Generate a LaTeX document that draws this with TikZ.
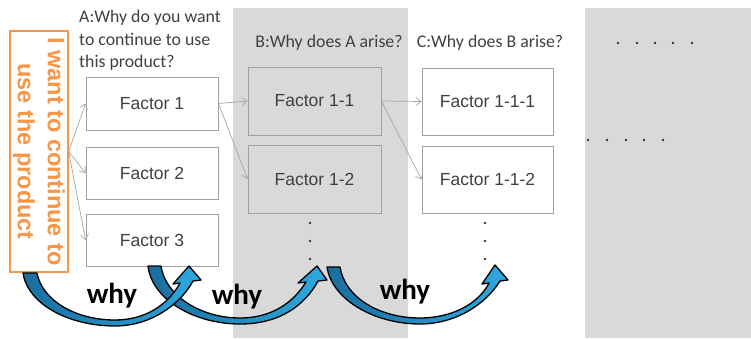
\documentclass[tikz,border=0pt]{standalone}
\usepackage{fontspec}
\setmainfont{Carlito}
\newfontfamily\arialfont{Liberation Sans}
\usetikzlibrary{arrows.meta}
\definecolor{panelgray}{HTML}{D9D9D9}
\definecolor{boxline}{HTML}{A0A0A0}
\definecolor{linkgray}{HTML}{A6A6A6}
\definecolor{textgray}{HTML}{404040}
\definecolor{orangeline}{HTML}{F79646}
\definecolor{blueDark}{HTML}{1A6E9E}
\definecolor{blueLight}{HTML}{2EA9E0}
\begin{document}
\begin{tikzpicture}[x=1pt,y=-1pt,
  factor/.style={draw=boxline, line width=0.9pt, fill=white, text=textgray,
    font=\arialfont\fontsize{17.5}{20}\selectfont, inner sep=0pt},
  factorgray/.style={factor, fill=none},
  question/.style={text=textgray, font=\fontsize{17.8}{22.5}\selectfont, inner sep=0pt},
  link/.style={draw=linkgray, line width=0.7pt, -{Straight Barb[length=5pt,width=8pt]}},
  dot/.style={fill=black!80, draw=none},
  bluearrow/.style={draw=black, line width=1.3pt, line join=round,
    left color=blueDark, right color=blueLight},
  whytext/.style={font=\bfseries\fontsize{29}{32}\selectfont, text=black, inner sep=0pt}]
\useasboundingbox (0,0) rectangle (751,338);

% background panels
\fill[panelgray] (233,8) rectangle (408,338);
\fill[panelgray] (585,8) rectangle (751,338);

% starting statement
\node[draw=orangeline, line width=1.4pt, fill=white, rotate=-90,
      minimum width=241pt, minimum height=58pt, inner sep=0pt, align=center,
      text=orangeline, font=\arialfont\bfseries\fontsize{23.5}{30}\selectfont]
      (ob) at (39,151.5) {I want to continue to\\use the product};

% questions
\node[question, anchor=north west, align=left] (qa) at (79,10)
  {A:Why do you want\\to continue to use\\this product?};
\node[question] (qb) at (329,43) {B:Why does A arise?};
\node[question] (qc) at (490,43) {C:Why does B arise?};

% factor boxes
\node[factor, minimum width=132pt, minimum height=53pt] (f1) at (152,103.5) {Factor 1};
\node[factor, minimum width=132pt, minimum height=52pt] (f2) at (152,173) {Factor 2};
\node[factor, minimum width=132pt, minimum height=52pt] (f3) at (152,240) {Factor 3};
\node[factorgray, minimum width=133pt, minimum height=68pt] (f11) at (314.5,101) {Factor 1-1};
\node[factorgray, minimum width=133pt, minimum height=68pt] (f12) at (314.5,179) {Factor 1-2};
\node[factor, minimum width=131pt, minimum height=67pt] (f111) at (487.5,101.5) {Factor 1-1-1};
\node[factor, minimum width=131pt, minimum height=67pt] (f112) at (487.5,179.5) {Factor 1-1-2};

% links
\draw[link] (ob.north) -- (f1.west);
\draw[link] (ob.north) -- (f2.west);
\draw[link] (ob.north) -- (f3.west);
\draw[link] (f1.east) -- (f11.west);
\draw[link] (f1.east) -- (f12.west);
\draw[link] (f11.east) -- (f111.west);
\draw[link] (f11.east) -- (f112.west);

% continuation dots
\foreach \y in {223,241,259} {
  \fill[dot] (310,\y) circle (1.4pt);
  \fill[dot] (485,\y) circle (1.4pt);
}
\foreach \x in {618,637,655,673,692} \fill[dot] (\x,43) circle (1.4pt);
\foreach \x in {588,607,626,644,663} \fill[dot] (\x,140) circle (1.4pt);

% curved "why" arrows
\path[bluearrow] (327,267) .. controls (332,300) and (375,324) .. (420,324)
  .. controls (455,324) and (485,305) .. (500,281)
  -- (508,280) -- (495,265) -- (482,284) -- (489,283)
  .. controls (478,305) and (450,318) .. (420,318)
  .. controls (380,318) and (345,298) .. (340,267) -- cycle;
\path[bluearrow] (148,266) .. controls (152,300) and (195,324) .. (240,324)
  .. controls (280,324) and (305,305) .. (318,281)
  -- (327,280) -- (317,266) -- (298,283) -- (306,282)
  .. controls (290,308) and (265,318) .. (240,318)
  .. controls (200,318) and (165,295) .. (161,266) -- cycle;
\path[bluearrow] (23,273) .. controls (28,305) and (70,326) .. (115,326)
  .. controls (150,326) and (180,305) .. (193,281)
  -- (201,280) -- (189,266) -- (173,284) -- (180,283)
  .. controls (168,305) and (145,320) .. (115,320)
  .. controls (75,320) and (42,300) .. (37,273) -- cycle;

\node[whytext] (w1) at (112,296) {why};
\node[whytext] (w2) at (237,297) {why};
\node[whytext] (w3) at (405,292) {why};
\end{tikzpicture}
\end{document}
